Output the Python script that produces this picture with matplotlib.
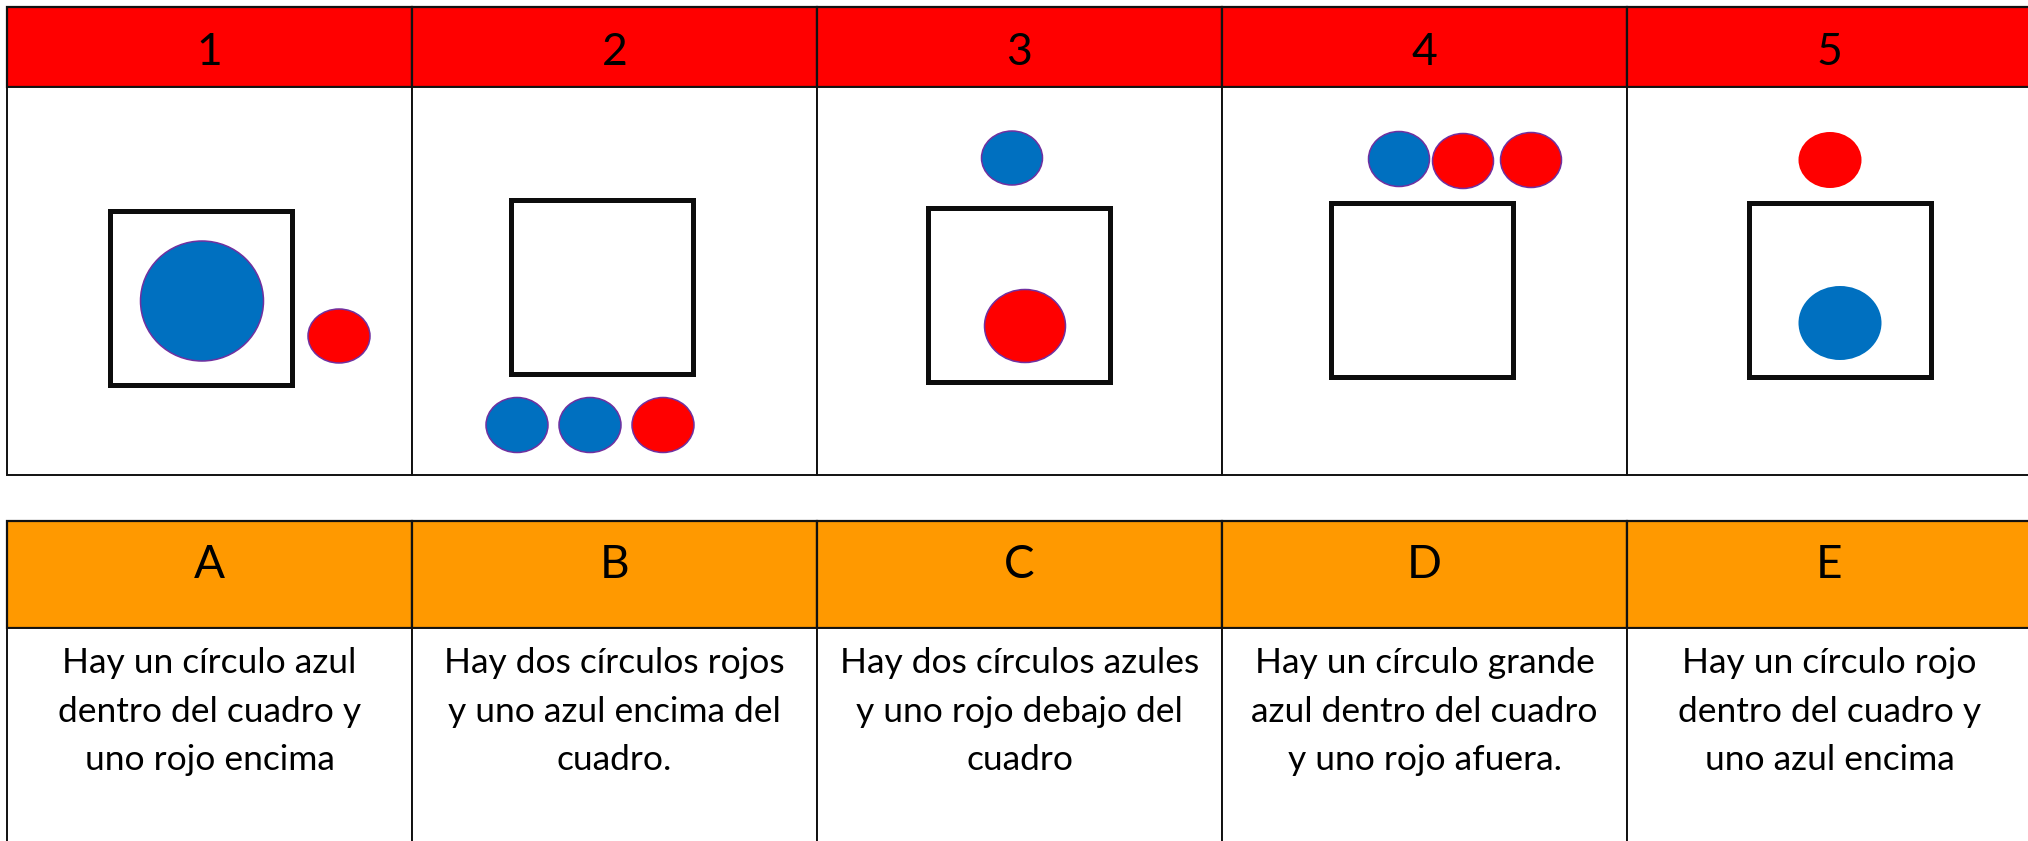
import matplotlib
matplotlib.use("Agg")
import matplotlib.pyplot as plt
from matplotlib.patches import Rectangle, Ellipse

plt.rcParams['font.family'] = ['Lato', 'DejaVu Sans']

# ---------------- data ----------------
top_labels = ['1', '2', '3', '4', '5']
bottom_labels = ['A', 'B', 'C', 'D', 'E']
descriptions = [
    ["Hay un círculo azul", "dentro del cuadro y", "uno rojo encima"],
    ["Hay dos círculos rojos", "y uno azul encima del", "cuadro."],
    ["Hay dos círculos azules", "y uno rojo debajo del", "cuadro"],
    ["Hay un círculo grande", "azul dentro del cuadro", "y uno rojo afuera."],
    ["Hay un círculo rojo", "dentro del cuadro y", "uno azul encima"],
]

# square (cuadro) per panel: centre offset inside column, centre y
square_dx = [194, 190, 202, 200, 213]
square_cy = [298, 287, 295, 290, 290]

# circles: panel, colour, x offset inside column, centre y, width, height, outlined
circ_panel = [0, 0, 1, 1, 1, 2, 2, 3, 3, 3, 4, 4]
circ_color = ['blue', 'red', 'blue', 'blue', 'red', 'blue', 'red',
              'blue', 'red', 'red', 'red', 'blue']
circ_dx = [195, 332, 105, 178, 251, 195, 208, 177, 241, 309, 203, 213]
circ_cy = [301, 336, 425, 425, 425, 158, 326, 159, 161, 160, 160, 323]
circ_w = [123, 62, 62, 62, 62, 61, 81, 61, 61, 61, 63, 83]
circ_h = [120, 54, 55, 55, 55, 54, 73, 55, 55, 55, 56, 74]
circ_edge = [True, True, True, True, True, True, True, True, True, True, False, False]

# ---------------- style / layout ----------------
W, H = 2028, 841
RED = '#FF0000'
ORANGE = '#FF9900'
BLUE = '#0070C0'
PURPLE = '#7030A0'
colors = {'blue': BLUE, 'red': RED}

x0 = 7
col_w = 405
t1_top, t1_head, t1_bot = 7, 87, 475
t2_top, t2_head, t2_bot = 521, 628, 900
sq_w, sq_h = 182, 174

fig = plt.figure(figsize=(W / 100, H / 100), dpi=100)
ax = fig.add_axes([0, 0, 1, 1])
ax.set_xlim(0, W)
ax.set_ylim(H, 0)
ax.axis('off')

ncol = len(top_labels)
for i in range(ncol):
    cx0 = x0 + i * col_w
    # top table
    ax.add_patch(Rectangle((cx0, t1_top), col_w, t1_head - t1_top,
                           facecolor=RED, edgecolor='#111111', lw=1.6, zorder=1))
    ax.add_patch(Rectangle((cx0, t1_head), col_w, t1_bot - t1_head,
                           facecolor='white', edgecolor='#111111', lw=1.4, zorder=1))
    ax.text(cx0 + col_w / 2, 65, top_labels[i], ha='center', va='baseline',
            fontsize=32, color='black', zorder=5)
    # bottom table
    ax.add_patch(Rectangle((cx0, t2_top), col_w, t2_head - t2_top,
                           facecolor=ORANGE, edgecolor='#111111', lw=1.6, zorder=1))
    ax.add_patch(Rectangle((cx0, t2_head), col_w, t2_bot - t2_head,
                           facecolor='white', edgecolor='#111111', lw=1.4, zorder=1))
    ax.text(cx0 + col_w / 2, 578, bottom_labels[i], ha='center', va='baseline',
            fontsize=33, color='black', zorder=5)
    for k, line in enumerate(descriptions[i]):
        ax.text(cx0 + col_w / 2, 673 + k * 48.5, line, ha='center', va='baseline',
                fontsize=25.5, color='black', zorder=5)
    # square
    ax.add_patch(Rectangle((cx0 + square_dx[i] - sq_w / 2, square_cy[i] - sq_h / 2),
                           sq_w, sq_h, facecolor='none', edgecolor='#0D0D0D',
                           lw=3.6, zorder=3))

for p, c, dx, cy, w, h, e in zip(circ_panel, circ_color, circ_dx, circ_cy,
                                 circ_w, circ_h, circ_edge):
    ax.add_patch(Ellipse((x0 + p * col_w + dx, cy), w, h,
                         facecolor=colors[c],
                         edgecolor=PURPLE if e else 'none',
                         lw=1.1 if e else 0, zorder=4))

fig.savefig('out.png', dpi=100)
